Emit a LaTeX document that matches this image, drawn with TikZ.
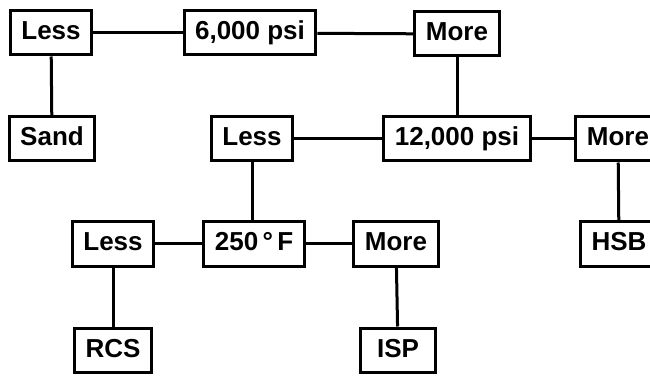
\documentclass[tikz,border=0pt]{standalone}
\usepackage{fontspec}
\setmainfont{Liberation Sans}
\usepackage{tikz}
\usetikzlibrary{positioning}
\tikzset{
  choice node/.style={
    rectangle,
    draw=black,
    fill=white,
    line width=3pt,
    minimum width=75pt,
    minimum height=44pt,
    inner xsep=11pt,
    inner ysep=0pt,
    text height=19pt,
    text depth=5pt,
    align=center,
    font=\fontsize{26}{30}\selectfont\bfseries
  }
}
\tikzset{
  branch/.style={
    draw=black,
    line width=3pt
  }
}

\begin{document}
\begin{tikzpicture}[x=1pt,y=-1pt]

    \useasboundingbox (0,0) rectangle (650,379);
    \clip (0,0) rectangle (650,379);

    % ------------------------------------------------------------
    % Nodes
    % ------------------------------------------------------------

    \node[choice node] (lessA) at (51,33) {Less};
    \node[choice node] (psiA) at (250,33) {6,000 psi};
    \node[choice node] (moreA) at (457,34) {More};

    \node[choice node] (sand) at (52,139) {Sand};
    \node[choice node] (lessB) at (252,139) {Less};
    \node[choice node] (psiB) at (457,139) {12,000 psi};
    \node[choice node] (moreB) at (618,139) {More};

    \node[choice node] (lessC) at (113,244) {Less};
    \node[choice node] (temp) at (254,244) {250\,°\,F};
    \node[choice node] (moreC) at (396,244) {More};
    \node[choice node] (hsb) at (619,244) {HSB};

    \node[choice node] (rcs) at (113,350) {RCS};
    \node[choice node] (isp) at (398,350) {ISP};

    % ------------------------------------------------------------
    % Branches
    % ------------------------------------------------------------

    \draw[branch] (lessA) -- (psiA);
    \draw[branch] (psiA) -- (moreA);
    \draw[branch] (lessA) -- (sand);
    \draw[branch] (moreA) -- (psiB);

    \draw[branch] (lessB) -- (psiB);
    \draw[branch] (psiB) -- (moreB);
    \draw[branch] (moreB) -- (hsb);
    \draw[branch] (lessB) -- (lessB |- temp.north);

    \draw[branch] (lessC) -- (temp);
    \draw[branch] (temp) -- (moreC);
    \draw[branch] (lessC) -- (rcs);
    \draw[branch] (moreC) -- (isp);

\end{tikzpicture}
\end{document}
